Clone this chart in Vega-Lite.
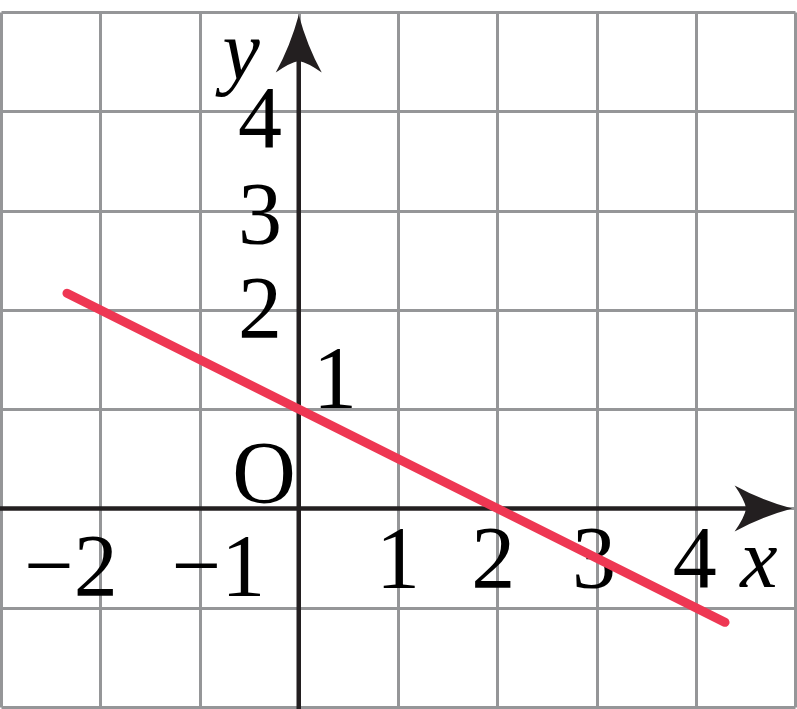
{
  "$schema": "https://vega.github.io/schema/vega-lite/v6.json",
  "width": 794,
  "height": 695,
  "autosize": "none",
  "padding": {"left": 1, "top": 12, "right": 2, "bottom": 2},
  "background": "white",
  "config": {
    "view": {"stroke": null},
    "axis": {"domain": false, "labels": false, "ticks": false, "grid": true, "gridColor": "#959698", "gridWidth": 3, "gridOpacity": 1},
    "axisX": {"tickCount": 8},
    "axisY": {"tickCount": 7}
  },
  "layer": [
    {
      "data": {"values": [{"x": 0, "y": -2.03, "y2": 4.7}]},
      "mark": {"type": "rule", "color": "#231f20", "strokeWidth": 4.5},
      "encoding": {
        "x": {"field": "x", "type": "quantitative", "title": null, "scale": {"domain": [-3, 5], "nice": false, "zero": false}},
        "y": {"field": "y", "type": "quantitative", "title": null, "scale": {"domain": [-2, 5], "nice": false, "zero": false}},
        "y2": {"field": "y2"}
      }
    },
    {
      "data": {"values": [{"x": -3.02, "x2": 4.7, "y": 0}]},
      "mark": {"type": "rule", "color": "#231f20", "strokeWidth": 4.5},
      "encoding": {
        "x": {"field": "x", "type": "quantitative", "title": null},
        "x2": {"field": "x2"},
        "y": {"field": "y", "type": "quantitative", "title": null}
      }
    },
    {
      "data": {"values": [{"x": 0, "y": 4.681}]},
      "mark": {"type": "point", "filled": true, "color": "#231f20", "opacity": 1, "size": 3300,
               "shape": "M0,-1 Q0.3,0.1 0.8,1 Q0.3,0.65 0,0.6 Q-0.3,0.65 -0.8,1 Q-0.3,0.1 0,-1 Z"},
      "encoding": {
        "x": {"field": "x", "type": "quantitative", "title": null},
        "y": {"field": "y", "type": "quantitative", "title": null}
      }
    },
    {
      "data": {"values": [{"x": 4.681, "y": 0}]},
      "mark": {"type": "point", "filled": true, "color": "#231f20", "opacity": 1, "size": 3300,
               "shape": "M1,0 Q-0.1,0.3 -1,0.8 Q-0.65,0.3 -0.6,0 Q-0.65,-0.3 -1,-0.8 Q-0.1,-0.3 1,0 Z"},
      "encoding": {
        "x": {"field": "x", "type": "quantitative", "title": null},
        "y": {"field": "y", "type": "quantitative", "title": null}
      }
    },
    {
      "data": {"values": [
        {"x": -2.295, "y": -0.872, "t": "−2"},
        {"x": -0.809, "y": -0.872, "t": "−1"},
        {"x": 1.0, "y": -0.791, "t": "1"},
        {"x": 1.96, "y": -0.791, "t": "2"},
        {"x": 2.975, "y": -0.791, "t": "3"},
        {"x": 3.99, "y": -0.791, "t": "4"},
        {"x": -0.39, "y": 3.64, "t": "4"},
        {"x": -0.39, "y": 2.673, "t": "3"},
        {"x": -0.39, "y": 1.727, "t": "2"},
        {"x": 0.365, "y": 1.022, "t": "1"},
        {"x": -0.35, "y": 0.065, "t": "O"}
      ]},
      "mark": {"type": "text", "font": "Liberation Serif", "fontSize": 88, "color": "#000000", "align": "center", "baseline": "alphabetic"},
      "encoding": {
        "x": {"field": "x", "type": "quantitative", "title": null},
        "y": {"field": "y", "type": "quantitative", "title": null},
        "text": {"field": "t"}
      }
    },
    {
      "data": {"values": [
        {"x": -0.58, "y": 4.33, "t": "y"},
        {"x": 4.637, "y": -0.791, "t": "x"}
      ]},
      "mark": {"type": "text", "font": "Liberation Serif", "fontSize": 84, "fontStyle": "italic", "color": "#000000", "align": "center", "baseline": "alphabetic"},
      "encoding": {
        "x": {"field": "x", "type": "quantitative", "title": null},
        "y": {"field": "y", "type": "quantitative", "title": null},
        "text": {"field": "t"}
      }
    },
    {
      "data": {"values": [{"x": -2.335, "y": 2.1675}, {"x": 4.295, "y": -1.1475}]},
      "mark": {"type": "line", "color": "#ee3753", "strokeWidth": 9, "strokeCap": "round"},
      "encoding": {
        "x": {"field": "x", "type": "quantitative", "title": null},
        "y": {"field": "y", "type": "quantitative", "title": null}
      }
    }
  ]
}
